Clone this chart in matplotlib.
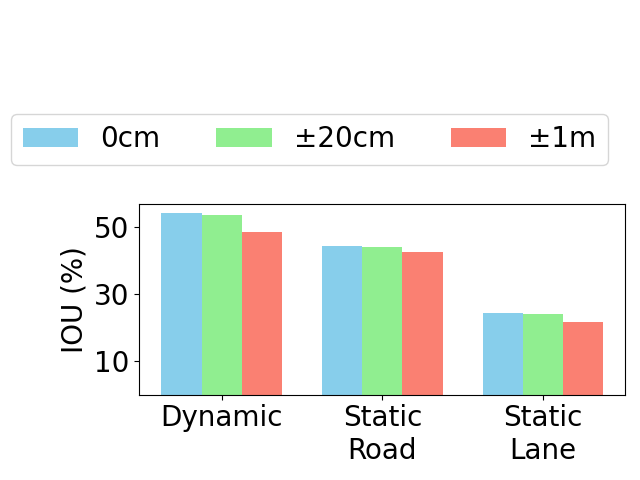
import matplotlib
matplotlib.use("Agg")
import matplotlib.pyplot as plt
import numpy as np

plt.rcParams["font.size"] = 20

categories = ["Dynamic", "Static\nRoad", "Static\nLane"]
series_names = ["0cm", "±20cm", "±1m"]
iou_0cm = [54.2, 44.3, 24.3]
iou_20cm = [53.6, 44.0, 24.0]
iou_1m = [48.5, 42.5, 21.6]
colors = ["skyblue", "lightgreen", "salmon"]

fig = plt.figure(figsize=(6.4, 4.8), dpi=100)
ax = fig.add_axes([0.2177, 0.1777, 0.7594, 0.3973])

x = np.arange(len(categories))
width = 0.25
for i, (vals, name) in enumerate(zip([iou_0cm, iou_20cm, iou_1m], series_names)):
    ax.bar(x + (i - 1) * width, vals, width, color=colors[i], label=name)

ax.set_xticks(x)
ax.set_xticklabels(categories)
ax.set_yticks([10, 30, 50])
ax.set_ylim(0, max(iou_0cm) * 1.05)
ax.set_ylabel("IOU (%)")

handles, labels = ax.get_legend_handles_labels()
fig.legend(handles, labels, loc="center", ncol=3,
           bbox_to_anchor=(0.4836, 0.7094))

fig.savefig("out.png", dpi=100)
